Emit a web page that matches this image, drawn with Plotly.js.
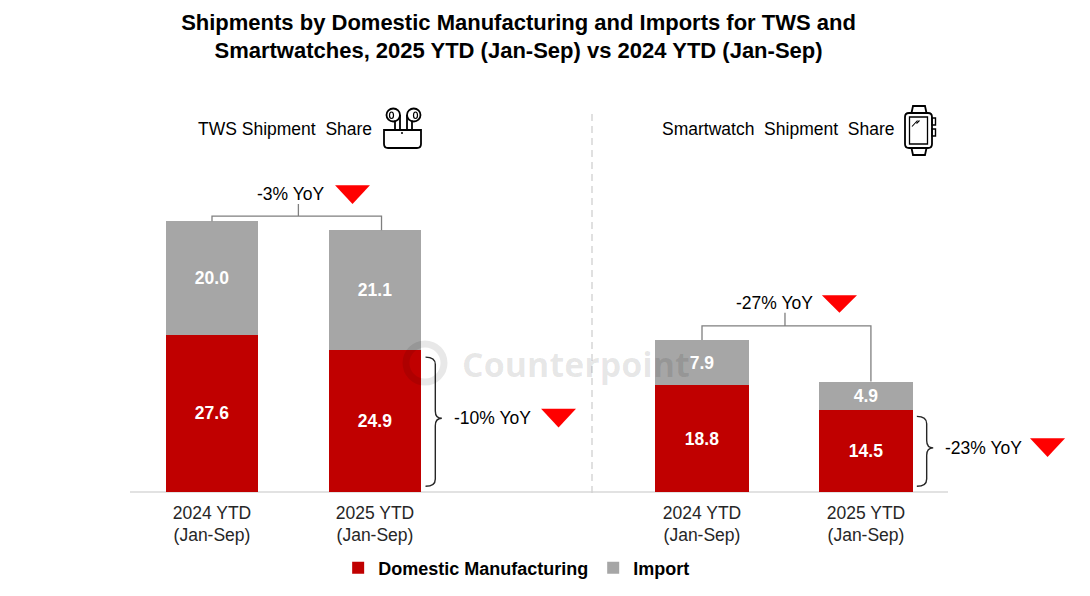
<!DOCTYPE html>
<html>
<head>
<meta charset="utf-8">
<script src="https://cdn.plot.ly/plotly-3.0.1.min.js"></script>
<style>
  html, body { margin: 0; padding: 0; background: #fff; }
  #chart { width: 1090px; height: 596px; }
</style>
</head>
<body>
<div id="chart"></div>
<script>
"use strict"

// values (million units)
const periods = ['2024 YTD<br>(Jan-Sep)', '2025 YTD<br>(Jan-Sep)'];
const twsDomestic = [27.6, 24.9];
const twsImport = [20.0, 21.1];
const watchDomestic = [18.8, 14.5];
const watchImport = [7.9, 4.9];
const seriesNames = ['Domestic Manufacturing', 'Import'];
const twsTotalYoY = '-3% YoY';
const twsDomesticYoY = '-10% YoY';
const watchTotalYoY = '-27% YoY';
const watchDomesticYoY = '-23% YoY';

const FONT = '"Liberation Sans", Arial, sans-serif';
const RED = '#c00000';
const GRAY = '#a6a6a6';
const W = 1090, H = 596;
const margin = {l: 0, r: 0, t: 162, b: 104};
const plotH = H - margin.t - margin.b;

// pixel -> paper helpers for the decorations
function px(x) { return x / W; }
function py(y) { return (H - margin.b - y) / plotH; }
function P(x, y) { return px(x) + ',' + py(y); }

function barTrace(xaxis, values, idx, color) {
    return {
        type: 'bar',
        x: periods,
        y: values,
        xaxis: xaxis,
        yaxis: 'y',
        name: seriesNames[idx],
        legendgroup: seriesNames[idx],
        showlegend: xaxis === 'x',
        marker: {color: color, line: {width: 0}},
        width: 0.57,
        texttemplate: '<b>%{y:.1f}</b>',
        textposition: 'inside',
        insidetextanchor: 'middle',
        textangle: 0,
        textfont: {color: '#ffffff', size: 17.5, family: FONT},
        hoverinfo: 'skip'
    };
}

const data = [
    barTrace('x', twsDomestic, 0, RED),
    barTrace('x', twsImport, 1, GRAY),
    barTrace('x2', watchDomestic, 0, RED),
    barTrace('x2', watchImport, 1, GRAY)
];

function sum2(a, b) { return a.map((v, i) => v + b[i]); }

const panels = [
    {
        xref: 'x', totals: sum2(twsDomestic, twsImport), domestic: twsDomestic,
        totalYoY: twsTotalYoY, domesticYoY: twsDomesticYoY,
        xr: 1.04, yLine: 48.5, xc: 0.53, yUp: 50.6,
        textX: 0.48, textY: 52.4, triX: 0.862, triTop: 53.9, triBot: 50.6,
        braceTri: 2.126
    },
    {
        xref: 'x2', totals: sum2(watchDomestic, watchImport), domestic: watchDomestic,
        totalYoY: watchTotalYoY, domesticYoY: watchDomesticYoY,
        xr: 1.03, yLine: 29.2, xc: 0.506, yUp: 31.5,
        textX: 0.445, textY: 33.2, triX: 0.838, triTop: 34.6, triBot: 31.5,
        braceTri: 2.107
    }
];

const shapes = [];
const annotations = [];
const yoyFont = {family: FONT, size: 17.5, color: '#000'};

function triangle(xref, cx, top, bottom) {
    const w = 0.107;
    return {
        type: 'path', xref: xref, yref: 'y',
        path: `M${cx - w},${top} L${cx + w},${top} L${cx},${bottom} Z`,
        fillcolor: '#ff0000', line: {width: 0}
    };
}

panels.forEach(p => {
    // total bracket over both bars
    shapes.push({
        type: 'path', xref: p.xref, yref: 'y',
        path: `M0,${p.totals[0]} V${p.yLine} H${p.xr} V${p.totals[1]} M${p.xc},${p.yLine} V${p.yUp}`,
        line: {color: '#7f7f7f', width: 1.3}
    });
    annotations.push({xref: p.xref, yref: 'y', x: p.textX, y: p.textY, text: p.totalYoY,
        showarrow: false, font: yoyFont, xanchor: 'center', yanchor: 'middle'});
    shapes.push(triangle(p.xref, p.triX, p.triTop, p.triBot));

    // curly brace next to the 2025 domestic segment
    const x0 = 1.31, xv = 1.37, xt = 1.41, d = 1.3;
    const yT = p.domestic[1] - 1.2, yB = 1.0, yM = p.domestic[1] / 2 + 0.5;
    shapes.push({
        type: 'path', xref: p.xref, yref: 'y',
        path: `M${x0},${yT} Q${xv},${yT} ${xv},${yT - d} L${xv},${yM + d} Q${xv},${yM} ${xt},${yM} ` +
              `Q${xv},${yM} ${xv},${yM - d} L${xv},${yB + d} Q${xv},${yB} ${x0},${yB}`,
        line: {color: '#262626', width: 1.4}
    });
    annotations.push({xref: p.xref, yref: 'y', x: 1.47, y: yM, text: p.domesticYoY,
        showarrow: false, font: yoyFont, xanchor: 'left', yanchor: 'middle'});
    shapes.push(triangle(p.xref, p.braceTri, yM + 1.7, yM - 1.6));
});

// baseline and panel separator
shapes.push({type: 'line', xref: 'paper', yref: 'paper', x0: px(130), x1: px(948), y0: 0, y1: 0,
    line: {color: '#d9d9d9', width: 1.5}, layer: 'below'});
shapes.push({type: 'line', xref: 'paper', yref: 'paper', x0: px(592), x1: px(592), y0: py(114), y1: py(493),
    line: {color: '#d0d0d0', width: 1.3, dash: '7px,5px'}});

// earbuds icon
const ink = {color: '#000', width: 1.8};
function paperPath(path, extra) {
    return Object.assign({type: 'path', xref: 'paper', yref: 'paper', path: path, line: ink}, extra || {});
}
function paperCircle(x0, y0, x1, y1, extra) {
    return Object.assign({type: 'circle', xref: 'paper', yref: 'paper',
        x0: px(x0), x1: px(x1), y0: py(y1), y1: py(y0), line: ink}, extra || {});
}
shapes.push(paperPath(`M${P(384, 130)} L${P(384, 144)} Q${P(384, 148)} ${P(388, 148)} L${P(417, 148)} ` +
    `Q${P(421, 148)} ${P(421, 144)} L${P(421, 130)} Z`));
shapes.push(paperCircle(401, 132, 403, 134, {fillcolor: '#000', line: {width: 0}}));
shapes.push(paperCircle(386.5, 108.5, 400, 121.5));
shapes.push(paperCircle(407, 108.5, 420.5, 121.5));
shapes.push(paperCircle(389.5, 112, 393.5, 118.5, {line: {color: '#000', width: 1.2}}));
shapes.push(paperCircle(413.5, 112, 417.5, 118.5, {line: {color: '#000', width: 1.2}}));
shapes.push(paperPath(`M${P(395, 120.5)} L${P(395, 130)} M${P(400, 115)} L${P(400, 130)} ` +
    `M${P(407, 115)} L${P(407, 130)} M${P(412, 120.5)} L${P(412, 130)}`));

// smartwatch icon
shapes.push(paperPath(`M${P(909, 113)} L${P(928, 113)} Q${P(932, 113)} ${P(932, 117)} L${P(932, 144)} ` +
    `Q${P(932, 148)} ${P(928, 148)} L${P(909, 148)} Q${P(905, 148)} ${P(905, 144)} L${P(905, 117)} ` +
    `Q${P(905, 113)} ${P(909, 113)} Z`));
shapes.push({type: 'rect', xref: 'paper', yref: 'paper', x0: px(909.5), x1: px(927.5),
    y0: py(144), y1: py(117), line: {color: '#000', width: 1.3}});
shapes.push(paperPath(`M${P(911.5, 113)} L${P(913, 106)} L${P(925, 106)} L${P(926.5, 113)} ` +
    `M${P(911.5, 148)} L${P(913, 155)} L${P(925, 155)} L${P(926.5, 148)}`));
shapes.push({type: 'rect', xref: 'paper', yref: 'paper', x0: px(932), x1: px(935.5),
    y0: py(125), y1: py(118), line: {color: '#000', width: 1.4}});
shapes.push({type: 'rect', xref: 'paper', yref: 'paper', x0: px(932), x1: px(935.5),
    y0: py(136), y1: py(129), line: {color: '#000', width: 1.4}});
shapes.push(paperPath(`M${P(912, 126.5)} L${P(917.5, 120.5)} M${P(916.5, 123.5)} L${P(919.5, 120.5)}`,
    {line: {color: '#000', width: 1.1}}));

// watermark
shapes.push(paperCircle(406, 344, 444, 382, {line: {color: 'rgba(0,0,0,0.09)', width: 7}}));
annotations.push({xref: 'paper', yref: 'paper', x: px(460), y: py(364), xanchor: 'left', yanchor: 'middle',
    text: '<b>Counterpoint</b>', showarrow: false,
    font: {family: '"Open Sans", sans-serif', size: 34, color: 'rgba(0,0,0,0.1)'}});

// panel titles
annotations.push({xref: 'paper', yref: 'paper', x: px(285), y: py(129), xanchor: 'center', yanchor: 'middle',
    text: 'TWS Shipment\u00a0 Share', showarrow: false, font: yoyFont});
annotations.push({xref: 'paper', yref: 'paper', x: px(778), y: py(129), xanchor: 'center', yanchor: 'middle',
    text: 'Smartwatch\u00a0 Shipment\u00a0 Share', showarrow: false, font: yoyFont});

const catAxis = {
    type: 'category',
    range: [-0.5, 2.3],
    showgrid: false,
    zeroline: false,
    showline: false,
    ticks: '',
    ticklabelstandoff: 8,
    tickfont: {family: FONT, size: 17.5, color: '#262626'},
    fixedrange: true,
    anchor: 'y'
};

const layout = {
    width: W,
    height: H,
    margin: margin,
    paper_bgcolor: '#ffffff',
    plot_bgcolor: '#ffffff',
    font: {family: FONT, size: 17.5, color: '#000'},
    title: {
        text: '<b>Shipments by Domestic Manufacturing and Imports for TWS and<br>' +
              'Smartwatches, 2025 YTD (Jan-Sep) vs 2024 YTD (Jan-Sep)</b>',
        x: 0.4757, xanchor: 'center',
        y: 0.95, yanchor: 'top', yref: 'container',
        font: {family: FONT, size: 22, color: '#000'}
    },
    barmode: 'stack',
    xaxis: Object.assign({}, catAxis, {domain: [130.5 / W, 586.9 / W]}),
    xaxis2: Object.assign({}, catAxis, {domain: [620 / W, 1079.2 / W]}),
    yaxis: {range: [0, 58], visible: false, fixedrange: true},
    showlegend: true,
    legend: {
        orientation: 'h',
        x: 0.474, xanchor: 'center',
        y: py(568), yanchor: 'middle',
        traceorder: 'normal',
        font: {family: FONT, size: 18, color: '#000', weight: 'bold'}
    },
    shapes: shapes,
    annotations: annotations
};

Plotly.newPlot('chart', data, layout, {displayModeBar: false, staticPlot: true});
</script>
</body>
</html>
